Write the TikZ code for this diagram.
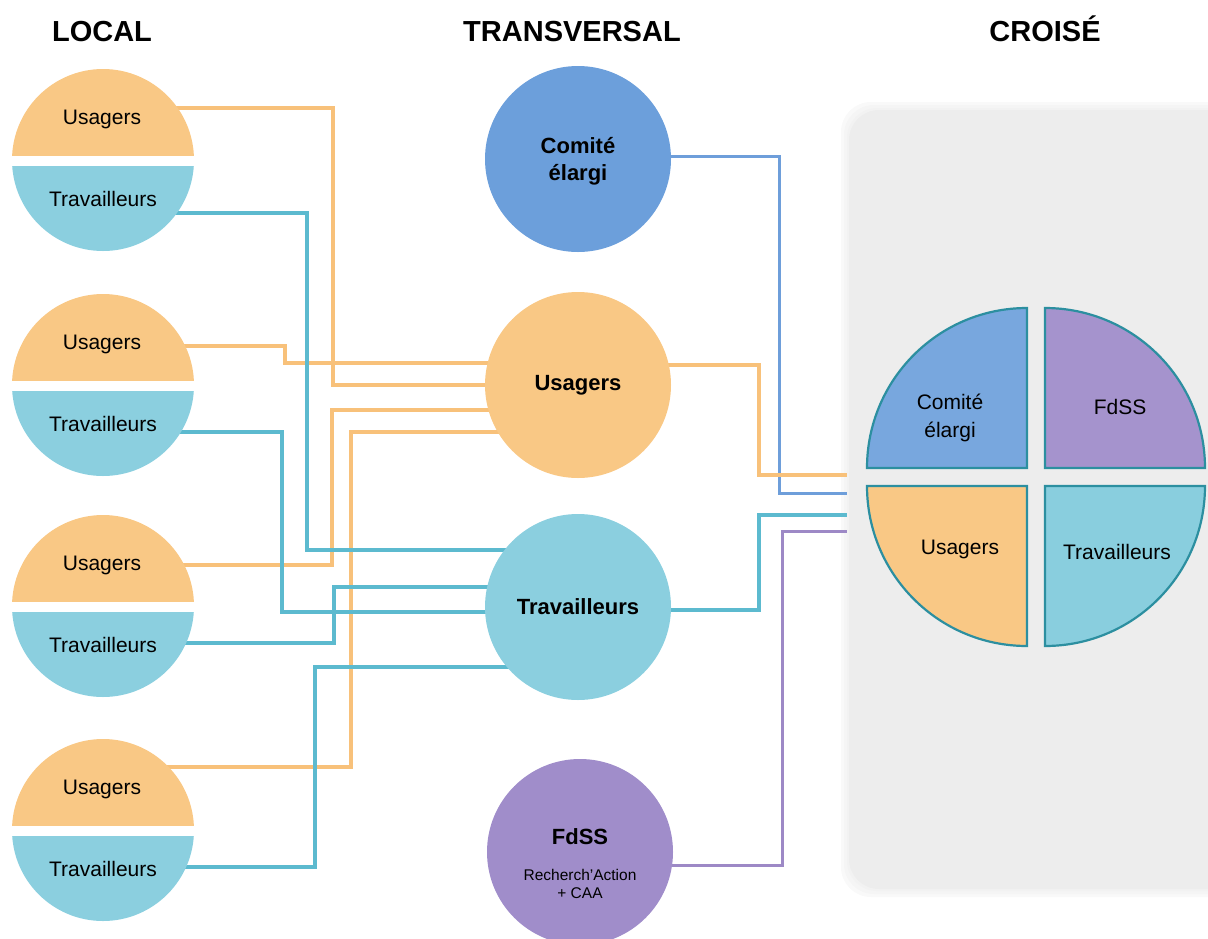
\documentclass[tikz,border=0pt]{standalone}
\usepackage{fontspec}
\setmainfont{Liberation Sans}
\usepackage{xcolor}
\usepackage{tikz}
\usetikzlibrary{positioning}

\definecolor{usag}{HTML}{F9C885}
\definecolor{usagline}{HTML}{F8C17A}
\definecolor{trav}{HTML}{8BCFDF}
\definecolor{travline}{HTML}{5CBACF}
\definecolor{comite}{HTML}{6C9FDB}
\definecolor{comiteline}{HTML}{6E9EDA}
\definecolor{fdss}{HTML}{A08DCA}
\definecolor{fdssline}{HTML}{9D89C6}
\definecolor{pieedge}{HTML}{2C8FA0}
\definecolor{croise}{HTML}{EDEDED}

\pgfdeclarelayer{back}
\pgfdeclarelayer{wires}
\pgfsetlayers{back,wires,main}

\begin{document}
\begin{tikzpicture}[x=1pt, y=-1pt,
		txt/.style={font=\fontsize{21}{28}\selectfont, align=center},
		bold/.style={font=\fontsize{22}{27}\selectfont\bfseries, align=center},
		small/.style={font=\fontsize{15.5}{18}\selectfont, align=center},
		title/.style={font=\fontsize{29}{34}\selectfont\bfseries, anchor=base},
		bigc/.style={circle, minimum size=186pt, inner sep=0pt},
		oline/.style={usagline, line width=3.5pt},
		tline/.style={travline, line width=3.5pt},
		cline/.style={comiteline, line width=3pt},
		fline/.style={fdssline, line width=3pt},
		quad/.style={draw=pieedge, line width=2.2pt}]
		\useasboundingbox (0,0) rectangle (1208,938);

		% titles
		\node[title] (tlocal) at (102,41) {LOCAL};
		\node[title] (ttrans) at (572,41) {TRANSVERSAL};
		\node[title] (tcroise) at (1045,41) {CROISÉ};

		% local pairs
		\foreach \i/\y in {1/160, 2/385, 3/606, 4/830} {
			\begin{scope}
				\clip (0,\y-100) rectangle (210,\y-5);
				\fill[usag] (103,\y) circle[radius=91];
			\end{scope}
			\begin{scope}
				\clip (0,\y+6) rectangle (210,\y+100);
				\fill[trav] (103,\y) circle[radius=91];
			\end{scope}
			\node[txt] (u\i) at (102,\y-41) {Usagers};
			\node[txt] (t\i) at (103,\y+39) {Travailleurs};
		}

		% transversal
		\node[bigc, fill=comite] (ce) at (578,159) {};
		\node[bold] (cet) at (578,161) {Comité\\élargi};
		\node[bigc, fill=usag, bold] (cu) at (578,385) {Usagers};
		\node[bigc, fill=trav, bold] (ct) at (578,607) {Travailleurs};
		\node[bigc, fill=fdss] (cf) at (580,852) {};
		\node[bold] (cft) at (580,837) {FdSS};
		\node[small, below=17pt of cft] (cfs) {Recherch'Action\\+ CAA};

		% croise
		\begin{pgfonlayer}{back}
			\foreach \d in {8,5,2}
				\fill[croise, opacity=0.35, rounded corners=30pt] (849-\d,110-\d) rectangle (1240,889+\d);
			\fill[croise, rounded corners=30pt] (849,110) rectangle (1240,889);
		\end{pgfonlayer}
		\filldraw[quad, fill=comite!92!white] (1027,468) -- (867,468) arc[start angle=180, end angle=270, radius=160] -- cycle;
		\filldraw[quad, fill=fdss!95!white] (1045,468) -- (1045,308) arc[start angle=270, end angle=360, radius=160] -- cycle;
		\filldraw[quad, fill=usag] (1027,486) -- (867,486) arc[start angle=180, end angle=90, radius=160] -- cycle;
		\filldraw[quad, fill=trav!95!travline] (1045,486) -- (1205,486) arc[start angle=0, end angle=90, radius=160] -- cycle;
		\node[txt] (pc) at (950,418) {Comité\\élargi};
		\node[txt] (pf) at (1120,407) {FdSS};
		\node[txt] (pu) at (960,549) {Usagers};
		\node[txt] (pt) at (1117,552) {Travailleurs};

		\coordinate (inU) at (847,475);
		\coordinate (inC) at (847,493);
		\coordinate (inT) at (847,515);
		\coordinate (inF) at (847,531);

		% connectors
		\begin{pgfonlayer}{wires}
			\draw[oline] ([yshift=11pt]u1.center) -| (333,385) -- (cu.center);
			\draw[oline] ([yshift=-2pt]u2.center) -| (285,363) -- ([yshift=22pt]cu.center);
			\draw[oline] (u3.center) -| (332,410) -- ([yshift=-25pt]cu.center);
			\draw[oline] ([yshift=22pt]u4.center) -| (351,432) -- ([yshift=-47pt]cu.center);

			\draw[tline] ([yshift=-14pt]t1.center) -| (307,550) -- ([yshift=57pt]ct.center);
			\draw[tline] ([yshift=-8pt]t2.center) -| (282,612) -- ([yshift=-5pt]ct.center);
			\draw[tline] ([yshift=2pt]t3.center) -| (334,587) -- ([yshift=20pt]ct.center);
			\draw[tline] ([yshift=2pt]t4.center) -| (315,667) -- ([yshift=-60pt]ct.center);

			\draw[cline] ([yshift=3pt]ce.center) -| (779,493) -- (inC);
			\draw[oline] ([yshift=20pt]cu.center) -| (759,475) -- (inU);
			\draw[tline] ([yshift=-3pt]ct.center) -| (759,515) -- (inT);
			\draw[fline] ([yshift=-13pt]cf.center) -| (782,531) -- (inF);
		\end{pgfonlayer}
	\end{tikzpicture}
\end{document}
